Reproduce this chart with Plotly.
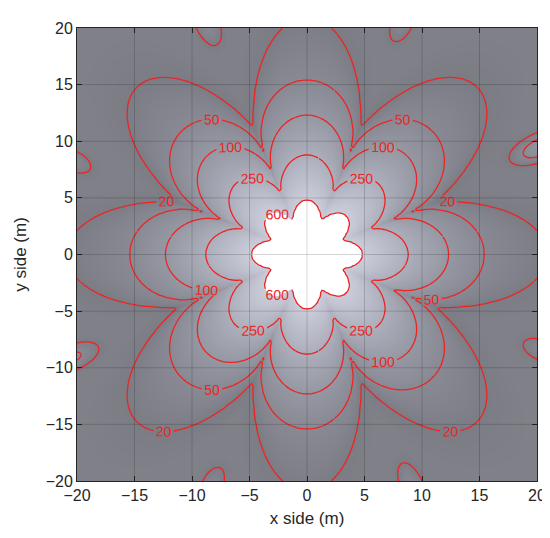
import numpy as np
import plotly.graph_objects as go

# ---- values ----
levels = [600, 250, 100, 50, 20]            # contour levels (inner -> outer)
petal_r = [4.8, 8.8, 12.3, 15.4, 20.9]      # radius of each level along a petal (0, 45, 90 ... deg)
valley_r = [3.25, 5.8, 7.6, 9.4, 12.2]      # radius of each level between petals (22.5, 67.5 ... deg)
petal_fullness = [1.0, 0.7, 0.58, 0.55, 1.05]  # exponent of the petal profile (small = broad petals)
center_value = 2000.0
outer_falloff = 3.2                          # log-log slope beyond the 20 contour

island_angle_deg = [68, 25, -22.5, -66, -112, -156, 158, 113]   # small 20-islands at the edges
island_reach_r = [20.3, 19.5, 20.4, 20.2, 20.3, 19.9, 20.3, 20.1]

tick_vals = [-20, -15, -10, -5, 0, 5, 10, 15, 20]
x_title = "x side (m)"
y_title = "y side (m)"


def base_field(X, Y):
    R = np.hypot(X, Y)
    T = np.arctan2(Y, X)
    c = np.abs(np.cos(4 * T))
    rl = [rv + (rp - rv) * c ** p for rp, rv, p in zip(petal_r, valley_r, petal_fullness)]
    lnL = np.log(levels)
    lnc = np.log(center_value)
    lnz = lnc + (lnL[0] - lnc) * (R / rl[0]) ** 2
    for i in range(len(levels) - 1):
        a, b = rl[i], rl[i + 1]
        m = (R > a) & (R <= b)
        f = (R - a) / (b - a)
        lnz = np.where(m, lnL[i] + (lnL[i + 1] - lnL[i]) * f, lnz)
    m = R > rl[-1]
    lnz = np.where(m, lnL[-1] - outer_falloff * np.log(np.maximum(R, 1e-9) / rl[-1]), lnz)
    return np.exp(lnz)


def field(X, Y):
    Z = base_field(X, Y)
    Rc, sr, st = 22.5, 1.6, 0.7
    for ang, ri in zip(island_angle_deg, island_reach_r):
        a = np.deg2rad(ang)
        px, py = ri * np.cos(a), ri * np.sin(a)
        b0 = float(base_field(np.array(px), np.array(py)))
        A = (levels[-1] - b0) * np.exp((Rc - ri) ** 2 / (2 * sr ** 2))
        u = X * np.cos(a) + Y * np.sin(a) - Rc
        v = -X * np.sin(a) + Y * np.cos(a)
        Z = Z + A * np.exp(-u ** 2 / (2 * sr ** 2) - v ** 2 / (2 * st ** 2))
    return Z


# fine grid for the shaded surface
xf = np.linspace(-20, 20, 401)
Xf, Yf = np.meshgrid(xf, xf)
Zf = field(Xf, Yf)
shade = np.where(Zf > levels[0], np.nan, np.log(np.clip(Zf, 1e-6, None)))
shade = np.round(shade, 3)

# coarser grid for contour lines
xc = np.linspace(-20, 20, 201)
Xc, Yc = np.meshgrid(xc, xc)
Zc = np.round(field(Xc, Yc), 3)

zlo, zhi = np.log(3.0), np.log(600.0)


def t(v):
    return float((np.log(v) - zlo) / (zhi - zlo))


colorscale = [
    [0.0, "rgb(128,128,136)"],
    [t(10), "rgb(128,128,137)"],
    [t(20), "rgb(124,124,133)"],
    [t(50), "rgb(136,137,147)"],
    [t(100), "rgb(149,151,162)"],
    [t(250), "rgb(172,174,187)"],
    [1.0, "rgb(203,205,219)"],
]

fig = go.Figure()
fig.add_trace(go.Heatmap(
    x=xf, y=xf, z=shade, colorscale=colorscale, zmin=zlo, zmax=zhi,
    showscale=False, hoverinfo="skip", zsmooth=False,
))

# contour lines; each level is drawn in a few pieces so that plotly puts several labels on it
red = "#ee2424"
n = len(xc)


def idx(v):
    return int(round((v + 20) / 40 * (n - 1)))


# (x split, y split) per level; None = no split in that direction
splits = {600: (None, 0.0), 250: (1.0, -1.0), 100: (-2.0, 1.5), 50: (2.5, 2.0), 20: (-1.0, -2.5)}
for L in levels:
    sx_, sy_ = splits[L]
    xs = [slice(0, n)] if sx_ is None else [slice(0, idx(sx_) + 1), slice(idx(sx_), n)]
    ys = [slice(0, n)] if sy_ is None else [slice(0, idx(sy_) + 1), slice(idx(sy_), n)]
    for sy in ys:
        for sx in xs:
            fig.add_trace(go.Contour(
                x=xc[sx], y=xc[sy], z=Zc[sy, sx],
                contours=dict(start=L, end=L, size=1, coloring="none", showlabels=True,
                              labelfont=dict(family="Liberation Sans, Arial, sans-serif", size=14, color=red)),
                line=dict(color=red, width=1.3, smoothing=0.8),
                showscale=False, hoverinfo="skip",
            ))

shapes = []
for v in tick_vals[1:-1]:
    shapes.append(dict(type="line", xref="x", yref="paper", x0=v, x1=v, y0=0, y1=1,
                       line=dict(color="rgba(0,0,0,0.16)", width=1), layer="above"))
    shapes.append(dict(type="line", yref="y", xref="paper", y0=v, y1=v, x0=0, x1=1,
                       line=dict(color="rgba(0,0,0,0.16)", width=1), layer="above"))

axis_common = dict(
    range=[-20, 20], tickvals=tick_vals, ticks="inside", ticklen=5, tickcolor="#262626",
    showline=True, linecolor="#262626", linewidth=1, mirror="allticks", showgrid=False,
    zeroline=False, tickfont=dict(family="Liberation Sans, Arial, sans-serif", size=16, color="#262626"),
    layer="above traces",
)

fig.update_layout(
    width=550, height=538,
    margin=dict(l=69, r=20, t=15, b=65),
    paper_bgcolor="white", plot_bgcolor="white",
    shapes=shapes,
    xaxis=dict(**axis_common, title=dict(text=x_title, standoff=8,
               font=dict(family="Liberation Sans, Arial, sans-serif", size=17, color="#262626"))),
    yaxis=dict(**axis_common, title=dict(text=y_title, standoff=14,
               font=dict(family="Liberation Sans, Arial, sans-serif", size=17, color="#262626"))),
    showlegend=False,
)

fig.write_html("out.html")
